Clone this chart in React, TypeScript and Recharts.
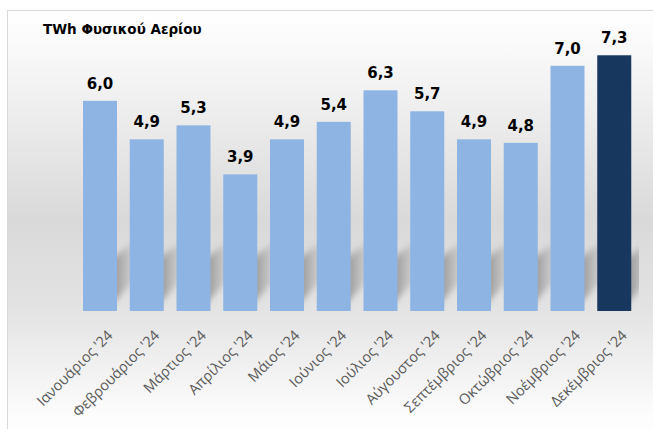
import React from "react";
import { BarChart, Bar, XAxis, YAxis, LabelList, Cell } from "recharts";

const months = [
  "Ιανουάριος '24",
  "Φεβρουάριος '24",
  "Μάρτιος '24",
  "Απρίλιος '24",
  "Μάιος '24",
  "Ιούνιος '24",
  "Ιούλιος '24",
  "Αύγουστος '24",
  "Σεπτέμβριος '24",
  "Οκτώβριος '24",
  "Νοέμβριος '24",
  "Δεκέμβριος '24",
];
const values = [6.0, 4.9, 5.3, 3.9, 4.9, 5.4, 6.3, 5.7, 4.9, 4.8, 7.0, 7.3];
const title = "TWh Φυσικού Αερίου";

const LIGHT = "#8DB4E2";
const DARK = "#17375E";

const data = months.map((m, i) => ({ month: m, value: values[i] }));

const BarShape = (props: any) => {
  const { x, y, width, height, fill } = props;
  const b = y + height;
  const r = x + width;
  const pts = `${r - 6},${b - 6} ${r - 6},${b - 52} ${r + 24},${b - 74} ${r + 24},${b - 38}`;
  return (
    <g>
      <polygon points={pts} fill="url(#shadowGrad)" filter="url(#blur)" clipPath="url(#plotClip)" />
      <rect x={x} y={y} width={width} height={height} fill={fill} />
    </g>
  );
};

const Tick = (props: any) => {
  const { x, y, payload } = props;
  return (
    <g transform={`translate(${x + 6},${y + 10})`}>
      <text
        transform="rotate(-45)"
        textAnchor="end"
        dy="0.71em"
        fontSize={14.5}
        fontFamily="'Open Sans', sans-serif"
        fill="#595959"
      >
        {payload.value}
      </text>
    </g>
  );
};

export default function App() {
  return (
    <div
      style={{
        position: "absolute",
        left: 0,
        top: 0,
        width: 653,
        height: 429,
        overflow: "hidden",
        background: "#ffffff",
      }}
    >
      <div
        style={{
          position: "absolute",
          left: 7,
          top: 10,
          width: 660,
          height: 440,
          border: "1px solid #d9d9d9",
          boxSizing: "border-box",
          background:
            "linear-gradient(to bottom, #ffffff 0%, #fbfbfb 6%, #f0f0f0 20%, #d9d9d9 48%, #e3e3e3 68%, #fdfdfd 93%, #ffffff 100%)",
        }}
      />
      <div
        style={{
          position: "absolute",
          left: 43,
          top: 21,
          fontFamily: "'DejaVu Sans', sans-serif",
          fontWeight: "bold",
          fontSize: 13.5,
          color: "#000000",
          whiteSpace: "nowrap",
        }}
      >
        {title}
      </div>
      <div style={{ position: "absolute", left: 0, top: 0 }}>
        <BarChart
          width={653}
          height={429}
          data={data}
          margin={{ top: 29, right: 15, bottom: 0, left: 77 }}
          barSize={34}
        >
          <defs>
            <linearGradient id="shadowGrad" x1="0" y1="0" x2="1" y2="0">
              <stop offset="0%" stopColor="#808080" stopOpacity={0.85} />
              <stop offset="100%" stopColor="#a0a0a0" stopOpacity={0} />
            </linearGradient>
            <filter id="blur" x="-50%" y="-50%" width="200%" height="200%">
              <feGaussianBlur stdDeviation="3" />
            </filter>
            <clipPath id="plotClip">
              <rect x={0} y={0} width={639} height={311} />
            </clipPath>
          </defs>
          <XAxis
            dataKey="month"
            interval={0}
            axisLine={false}
            tickLine={false}
            tick={<Tick />}
            height={118}
          />
          <YAxis hide domain={[0, 8.05]} />
          <Bar dataKey="value" isAnimationActive={false} shape={<BarShape />}>
            {data.map((d, i) => (
              <Cell key={i} fill={i === data.length - 1 ? DARK : LIGHT} />
            ))}
            <LabelList
              dataKey="value"
              position="top"
              offset={12}
              formatter={(v: any) => Number(v).toFixed(1).replace(".", ",")}
              style={{
                fontFamily: "'DejaVu Sans', sans-serif",
                fontWeight: "bold",
                fontSize: 15,
                fill: "#000000",
              }}
            />
          </Bar>
        </BarChart>
      </div>
    </div>
  );
}
